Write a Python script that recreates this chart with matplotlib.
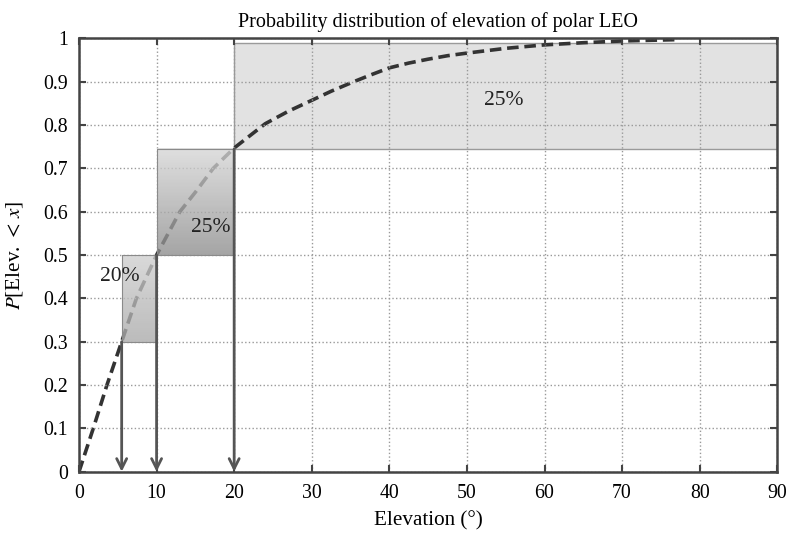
import numpy as np
import matplotlib
matplotlib.use('Agg')
import matplotlib.pyplot as plt

plt.rcParams['font.family'] = ['Liberation Serif', 'DejaVu Serif']
plt.rcParams['mathtext.fontset'] = 'stix'

# CDF of elevation
elev = [0, 1.84, 3.6, 5.5, 7.4, 10, 13, 15, 17.3, 20, 22, 24, 27, 30, 32.5, 35, 37.5,
        40, 42.5, 45, 47.5, 50, 55, 60, 65, 70, 77]
prob = [0, 0.10, 0.20, 0.30, 0.40, 0.50, 0.60, 0.645, 0.70, 0.747, 0.775, 0.803, 0.832,
        0.857, 0.878, 0.897, 0.915, 0.932, 0.943, 0.952, 0.96, 0.966, 0.977, 0.985,
        0.99, 0.994, 0.997]

# shaded boxes
box_x0 = [5.5, 10, 20]
box_x1 = [10, 20, 90]
box_y0 = [0.30, 0.50, 0.745]
box_y1 = [0.50, 0.745, 0.99]
box_lab = ['20%', '25%', '25%']
lab_x = [5.2, 17.0, 54.8]
lab_y = [0.45, 0.563, 0.856]

# arrows dropping to the axis
arr_x = [5.5, 10, 20]
arr_y = [0.30, 0.50, 0.745]

fig = plt.figure(figsize=(7.98, 5.33), dpi=100)
ax = fig.add_axes([0.099, 0.115, 0.875, 0.813])

ax.plot(elev, prob, color='#333333', ls=(0, (3.2, 1.6)), lw=2.6, zorder=2.2)

# top box (under the curve)
ax.fill_between([box_x0[2], box_x1[2]], box_y0[2], box_y1[2], facecolor='#e2e2e2',
                edgecolor='#9a9a9a', lw=1.0, zorder=1)

# lower boxes with vertical gradient (over the curve)
grad_cols = [('#cfcfcf', '#a9a9a9'), ('#d6d6d6', '#8c8c8c')]
for i in range(2):
    c_top = np.array(matplotlib.colors.to_rgb(grad_cols[i][0]))
    c_bot = np.array(matplotlib.colors.to_rgb(grad_cols[i][1]))
    t = np.linspace(0, 1, 64)[:, None]
    img = (c_top * (1 - t) + c_bot * t)[:, None, :]
    ax.imshow(img, extent=[box_x0[i], box_x1[i], box_y0[i], box_y1[i]],
              aspect='auto', origin='upper', alpha=0.78, zorder=3)
    ax.plot([box_x0[i], box_x1[i], box_x1[i], box_x0[i], box_x0[i]],
            [box_y0[i], box_y0[i], box_y1[i], box_y1[i], box_y0[i]],
            color='#8a8a8a', lw=0.8, zorder=3.1)

for i in range(3):
    ax.text(lab_x[i], lab_y[i], box_lab[i], fontsize=15.5, ha='center', va='center',
            color='#222222', zorder=5)

for i in range(3):
    ax.annotate('', xy=(arr_x[i], 0.0), xytext=(arr_x[i], arr_y[i]),
                arrowprops=dict(arrowstyle='->', color='#555555', lw=2.0,
                                mutation_scale=18, shrinkA=0, shrinkB=0),
                zorder=4)

ax.set_xlim(0, 90)
ax.set_ylim(0, 1)
ax.set_xticks(np.arange(0, 91, 10))
ax.set_yticks(np.arange(0, 1.01, 0.1))
ax.set_yticklabels(['0', '0.1', '0.2', '0.3', '0.4', '0.5', '0.6', '0.7', '0.8', '0.9', '1'])
ax.grid(True, ls=':', color='#999999', lw=1.0)
ax.set_axisbelow(False)
for gl in ax.get_xgridlines() + ax.get_ygridlines():
    gl.set_zorder(1.5)
ax.tick_params(direction='in', top=True, right=True, length=5, width=1.5,
               color='#444444', labelsize=14.3)
ax.tick_params(axis='x', pad=9)
ax.tick_params(axis='y', pad=8)
for s in ax.spines.values():
    s.set_color('#444444')
    s.set_linewidth(1.8)
    s.set_zorder(6)

ax.set_title('Probability distribution of elevation of polar LEO', fontsize=14.5,
             pad=8, x=0.514)
ax.set_xlabel('Elevation (°)', fontsize=15.2, labelpad=6)
ax.set_ylabel(r'$P$[Elev. $<\, x$]', fontsize=15.2)
ax.yaxis.set_label_coords(-0.078, 0.5)

plt.savefig('out.png', dpi=100)
plt.close(fig)
